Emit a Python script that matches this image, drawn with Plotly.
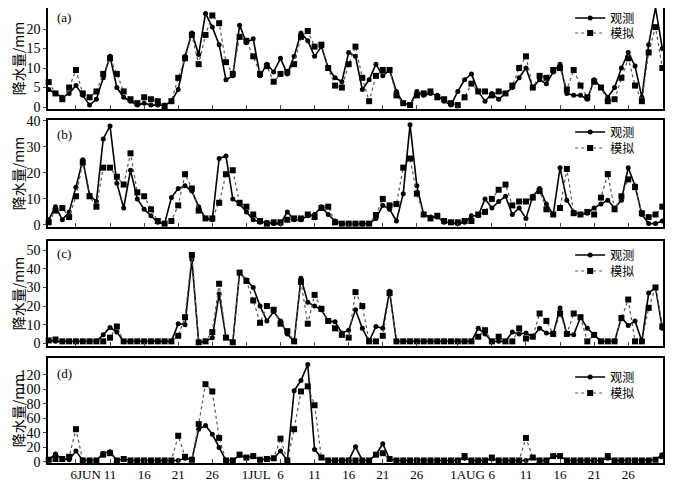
import pandas as pd
import plotly.graph_objects as go
from plotly.subplots import make_subplots

dates = pd.date_range("2021-06-02", "2021-08-31", freq="D")
season_start = pd.Timestamp("2021-06-01")
day_num = [(d - season_start).days for d in dates]

a_obs = [4.5,3.5,2.5,3.5,5.5,3,0.5,2,7.5,13,5,2.5,1.5,0.5,1,0.5,0.5,0.5,1.5,4.5,
         13,19,13.5,24,20.5,16,7,8,21,16.5,17.5,8,11,9,12.5,8.5,13,19,17,13,
         15.5,10,7.5,6.5,14,13,4.5,7,11,8,9.5,4,1,0.5,4,3,3.5,3,1.5,0.5,
         4,7,8.5,4,1.5,3.5,2,3.5,5,7.5,10,5,7,6,9,11,3.5,3,3,2,
         7,5,2.5,5,10,14,10.5,2.5,16,25.5,15]
a_sim = [6.4,3.5,2,5,9.5,3.5,2.5,4,8.5,12.5,8.5,4,2,1,2.5,2,1.5,0.2,1.5,7.5,
         12.5,18.5,11,18.5,23.5,21.5,11.5,8.5,18,17,13,8.5,10.5,6.5,8.5,9,11,18,19.5,15.5,
         16,10,5.5,5,11,15.5,7.5,1.5,8,9.5,9.5,3,1,0.5,3,3.5,4,2.5,2,1,
         0.5,2.5,6,4,4,3,4,3.5,5.5,10,13,5,8,7.5,9.5,10,4.5,9.5,5.5,2.5,
         6.5,5,1.5,2,7.5,12.5,5.5,1.5,14,20.5,10]

b_obs = [2,7,2,5,14.5,25,11.5,9,33,38,16,6.5,21,10,6,3.5,1,0.5,10.5,14,
         15,13,7,2.5,2,25.5,26.5,10,8,5,2,1,1,0.5,0.5,5,2,2,3.5,4,
         7,4,1.5,0.5,0.5,0.5,0.5,0.5,2.5,7.5,6,1.5,12,38.5,15,4,3,3,1,1,
         0.5,1,3.5,3.5,10,6.5,9,11,4,6.5,2.5,11,14,8,4,22,9.5,5,4,4.5,
         6.5,8,9.5,6.5,9.5,22,15,4,0.5,0.5,1.5]
b_sim = [1,5.5,6.5,3,11,24,11,7,22,22,18.5,15.5,27.5,12.5,11,6,1.5,0.5,1.5,7.5,
         19.5,14,5.5,2.5,2.5,8.5,19.5,21,8.5,7,4,1.5,0.5,1,1,2,2.5,2.5,4,3,
         6.5,7,1,0.5,0.5,0.5,0.5,0.5,3.8,10,7.5,8,22,25.5,12,4,2.5,3.5,1.5,1,
         1,1.5,1.5,4,5,10,13.5,15.5,7.5,9,9,10.5,13,6,4,6.5,21.5,4.5,4,5,
         4,10.5,19.5,6,11,17.5,14.5,4.5,3,4,7]

c_obs = [1.5,1,1,1,1,1,1,1,4.5,8.5,6,1,1,1,1,1,1,1,1,10.5,
         10,45,0.5,1,3,26.5,3,0.5,38,34,30,20,12,17,12,5,1,35,22,20,
         18,12,11.5,5.5,7,18,8,1,9,8,28,1,1,1,1,1,1,1,1,1,
         1,1,1,8,5,1,1,1,6,5,5.5,3.5,8,5.5,5,19,5,4.5,14,8,
         4.5,1,1,1,14,9.5,12,1,27,30,8]
c_sim = [1.5,2,1,1,1,1,1,1,1,3,9,1,1,1,1,1,1,1,1,4,
         14,47.5,0.5,1,6,32,3,0.5,38,33.5,23,11,20,18,10.5,6.5,1,33,10.5,26,
         18.5,12,8,4.5,3,27.5,20,1,1,4,27,1,1,1,1,1,1,1,1,1,
         1,1,1,3.5,7,1,3.5,1,1,8,2.5,3.5,16,12,5,16,5,16,14,1,
         4.5,1,1,1,13.5,23.5,1,1,19,30,9]

d_obs = [3,11,4,3,15,2,2,2,12,14,2,4,2,2,2,2,2,2,2,2,
         5,3,45,50,38,20,2,2,9,6,7,3,4,5,15,2,98,112,134,17,
         6,2,2,2,2,21,2,2,10,25,4,2,2,2,2,2,2,2,2,2,
         2,5,2,2,2,4,2,2,2,2,2,6,2,2,8,8,2,2,2,2,
         2,2,5,2,2,2,2,2,2,3,10]
d_sim = [3,4,4,7,45,2,2,2,10,12,2,4,2,2,2,2,2,2,2,36,
         7,3,52,107,97,33,2,2,10,6,8,3,4,5,32,2,45,97,104,78,
         6,2,2,2,2,2,2,2,10,12,4,2,2,2,2,2,2,2,2,2,
         2,8,2,2,2,6,2,2,2,2,33,6,2,2,8,8,2,2,2,2,
         2,2,8,2,2,2,2,2,2,3,8]

panel_labels = ["(a)", "(b)", "(c)", "(d)"]
series_names = ["观测", "模拟"]
panels = [
    (a_obs, a_sim, [-0.5, 25.4], [0, 5, 10, 15, 20]),
    (b_obs, b_sim, [-0.8, 40.3], [0, 10, 20, 30, 40]),
    (c_obs, c_sim, [-1.5, 55], [0, 10, 20, 30, 40, 50]),
    (d_obs, d_sim, [-1.5, 143], [0, 20, 40, 60, 80, 100, 120]),
]

tick_dates = ["2021-06-06", "2021-06-11", "2021-06-16", "2021-06-21", "2021-06-26",
              "2021-07-01", "2021-07-06", "2021-07-11", "2021-07-16", "2021-07-21", "2021-07-26",
              "2021-08-01", "2021-08-06", "2021-08-11", "2021-08-16", "2021-08-21", "2021-08-26"]
tick_pos = [(pd.Timestamp(t) - season_start).days for t in tick_dates]
pad = "\u00a0" * 6
tick_text = [pad + "6JUN", "11", "16", "21", "26", pad + "1JUL", "6", "11", "16", "21", "26",
             pad + "1AUG", "6", "11", "16", "21", "26"]

# figure is offset 8px by the page body margin, so it is sized 665x473
W, H = 665, 473
ML, MR, MT, MB = 40, 10, 0, 18
PH = H - MT - MB  # plot area height in px


def py(yfig):
    return 1 - (yfig - MT) / PH


# panel top/bottom in figure px
panel_px = [(0, 101), (112, 219), (233, 338), (350, 455)]
domains = [[py(b), py(t)] for (t, b) in panel_px]
label_y = [9, 126, 246, 365]
legend_rows = [(10, 25), (124, 140), (247, 263), (369, 385)]

fig = make_subplots(rows=4, cols=1)
serif = "Liberation Serif"
cjk = "Noto Sans CJK SC"

for k, (obs, sim, yr, yt) in enumerate(panels):
    r = k + 1
    lg1 = "legend" if k == 0 else f"legend{2 * k + 1}"
    lg2 = f"legend{2 * k + 2}"
    fig.add_trace(go.Scatter(x=day_num, y=obs, mode="lines+markers", name=series_names[0],
                             line=dict(color="black", width=1.6),
                             marker=dict(symbol="circle", size=5, color="black"),
                             legend=lg1, cliponaxis=False), row=r, col=1)
    fig.add_trace(go.Scatter(x=day_num, y=sim, mode="lines+markers", name=series_names[1],
                             line=dict(color="#555555", width=1.2, dash="dot"),
                             marker=dict(symbol="square", size=6, color="black"),
                             legend=lg2, cliponaxis=False), row=r, col=1)
    fig.update_yaxes(range=yr, tickvals=yt, domain=domains[k], row=r, col=1,
                     showline=True, mirror=True, linecolor="black", linewidth=1.5,
                     ticks="outside", ticklen=3, showgrid=False, zeroline=False,
                     automargin=False,
                     tickfont=dict(family=serif, size=14, color="black"),
                     title=dict(text="降水量/mm", font=dict(family=cjk, size=14, color="black"),
                                standoff=4))
    fig.update_xaxes(type="linear", range=[0.9, 91.1],
                     tickvals=tick_pos, ticktext=tick_text, row=r, col=1,
                     showline=True, mirror=True, linecolor="black", linewidth=1.5,
                     ticks="inside", ticklen=4, showgrid=False, zeroline=False,
                     automargin=False, tickangle=0, ticklabelstandoff=-1,
                     showticklabels=(k == 3),
                     tickfont=dict(family=serif, size=13, color="black"))
    fig.add_annotation(text=panel_labels[k], xref="paper", yref="paper", x=0.012, y=py(label_y[k]),
                       xanchor="left", yanchor="middle", showarrow=False,
                       font=dict(family=serif, size=13, color="black"))
    for lg, yy in ((lg1, legend_rows[k][0]), (lg2, legend_rows[k][1])):
        fig.update_layout({lg: dict(x=0.849, y=py(yy), xanchor="left", yanchor="middle",
                                    bgcolor="rgba(0,0,0,0)", tracegroupgap=0,
                                    font=dict(family=cjk, size=12, color="black"))})

fig.update_layout(width=W, height=H, margin=dict(l=ML, r=MR, t=MT, b=MB, autoexpand=False),
                  paper_bgcolor="white", plot_bgcolor="white", showlegend=True)

fig.write_html("out.html")
